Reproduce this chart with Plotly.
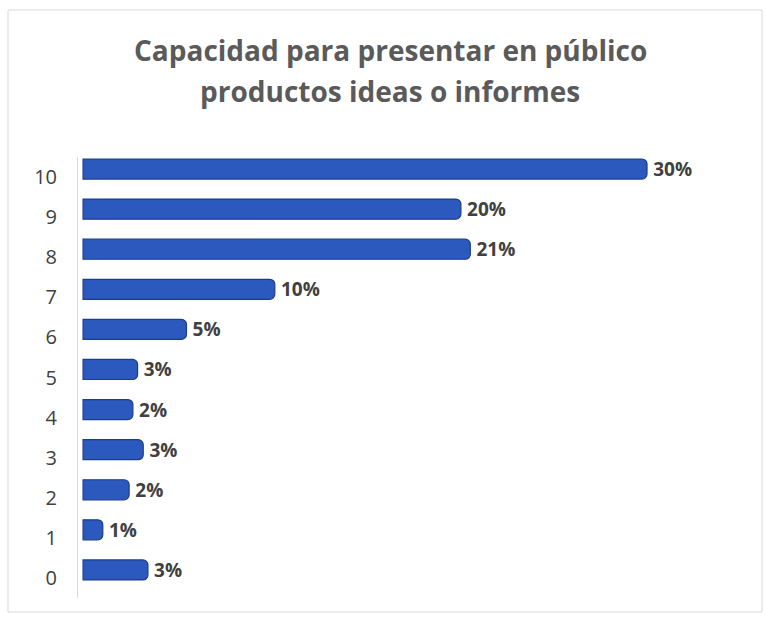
import plotly.graph_objects as go

categories = ["0", "1", "2", "3", "4", "5", "6", "7", "8", "9", "10"]
values = [3.45, 1.05, 2.45, 3.2, 2.65, 2.9, 5.5, 10.2, 20.6, 20.1, 30.0]
labels = ["3%", "1%", "2%", "3%", "2%", "3%", "5%", "10%", "21%", "20%", "30%"]
title_lines = ["Capacidad para presentar en público", "productos ideas o informes"]

W, H = 767, 618
ml, mr, mt, mb = 78, 26, 157, 20
pw, ph = W - ml - mr, H - mt - mb

fig = go.Figure()
fig.add_trace(go.Bar(
    y=categories, x=values, orientation="h",
    text=labels, texttemplate="\u2009%{text}", textposition="outside", constraintext="none",
    textfont=dict(family="Open Sans", size=19, color="#404040", weight="bold"),
    marker=dict(color="#2B59BE", line=dict(color="#1D3C8C", width=1.2), cornerradius=5),
    width=0.5, offset=-0.05, cliponaxis=False,
))

# frame
def px_to_paper_x(px):
    return (px - ml) / pw

def px_to_paper_y(py):
    return (H - mb - py) / ph

fig.add_shape(type="rect", xref="paper", yref="paper",
              x0=px_to_paper_x(8), x1=px_to_paper_x(762),
              y0=px_to_paper_y(612), y1=px_to_paper_y(10),
              line=dict(color="#D9D9D9", width=1), layer="below")

for i, (line, py) in enumerate(zip(title_lines, [50, 91])):
    fig.add_annotation(text=line, xref="paper", yref="paper",
                       x=px_to_paper_x(390), y=px_to_paper_y(py),
                       xanchor="center", yanchor="middle", showarrow=False,
                       font=dict(family="Open Sans", size=28, color="#5A5A5A", weight="bold"))

fig.update_layout(
    width=W, height=H,
    margin=dict(l=ml, r=mr, t=mt, b=mb),
    paper_bgcolor="white", plot_bgcolor="white",
    showlegend=False,
    xaxis=dict(range=[-0.27, 35], visible=False, showgrid=False, zeroline=False),
    yaxis=dict(type="category", categoryorder="array", categoryarray=categories,
               range=[-0.5, 10.5], showline=True, linecolor="#D9D9D9", linewidth=1,
               ticks="", showgrid=False, ticklabelstandoff=16,
               tickfont=dict(family="Open Sans", size=20, color="#404040")),
)

fig.write_html("out.html", config={"displayModeBar": False},
               post_script="document.body.style.margin='0px';")
